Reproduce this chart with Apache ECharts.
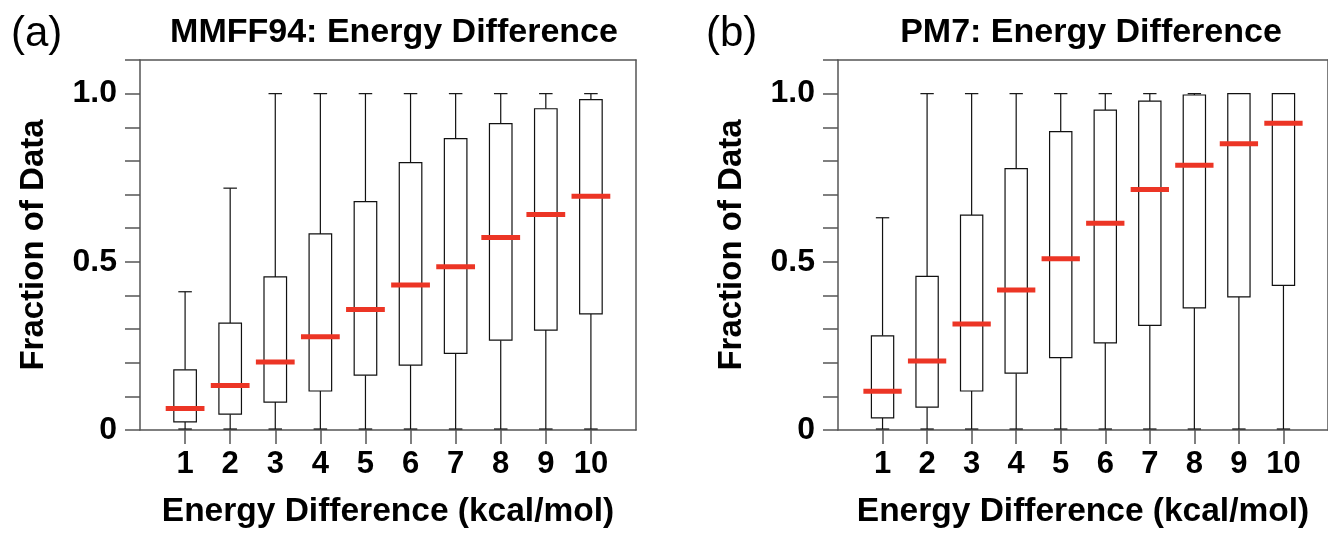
<!DOCTYPE html>
<html lang="en">
<head>
    <meta charset="utf-8"/>
    <title>Energy Difference box plots</title>
    <script src="https://cdn.jsdelivr.net/npm/echarts@6/dist/echarts.min.js"></script>
    <style>
        html, body { margin: 0; padding: 0; background: #fff; }
        #chart { width: 1328px; height: 534px; }
    </style>
</head>
<body>
<div id="chart"></div>
<script>
    // x positions (kcal/mol) and tick labels
    const energies = [1, 2, 3, 4, 5, 6, 7, 8, 9, 10];
    const yLabelTicks = [0, 0.5, 1.0];

    // (a) MMFF94
    const mmffMin = [0.003, 0.003, 0.003, 0.003, 0.003, 0.003, 0.003, 0.003, 0.003, 0.003];
    const mmffQ1 = [0.024, 0.047, 0.083, 0.116, 0.163, 0.193, 0.228, 0.267, 0.297, 0.345];
    const mmffMed = [0.064, 0.132, 0.202, 0.277, 0.358, 0.431, 0.485, 0.572, 0.641, 0.695];
    const mmffQ3 = [0.179, 0.318, 0.455, 0.583, 0.679, 0.795, 0.866, 0.911, 0.955, 0.982];
    const mmffMax = [0.411, 0.719, 1, 1, 1, 1, 1, 1, 1, 1];

    // (b) PM7
    const pm7Min = [0.003, 0.003, 0.003, 0.003, 0.003, 0.003, 0.003, 0.003, 0.003, 0.003];
    const pm7Q1 = [0.036, 0.068, 0.116, 0.169, 0.215, 0.259, 0.311, 0.363, 0.396, 0.430];
    const pm7Med = [0.115, 0.205, 0.315, 0.416, 0.509, 0.615, 0.715, 0.787, 0.851, 0.912];
    const pm7Q3 = [0.280, 0.457, 0.639, 0.777, 0.887, 0.951, 0.978, 0.996, 1.0, 1.0];
    const pm7Max = [0.631, 1, 1, 1, 1, 1, 1, 1, 1, 1];

    const font = 'Liberation Sans, Arial, Helvetica, sans-serif';
    const axisColor = '#555';
    const boxColor = '#111';
    const medianColor = '#ec3525';

    function rows(mn, q1, med, q3, mx) {
        return energies.map((x, i) => [x, mn[i], q1[i], med[i], q3[i], mx[i]]);
    }

    function renderBox(params, api) {
        const x = api.value(0);
        const pMin = api.coord([x, api.value(1)]);
        const pQ1 = api.coord([x, api.value(2)]);
        const pMed = api.coord([x, api.value(3)]);
        const pQ3 = api.coord([x, api.value(4)]);
        const pMax = api.coord([x, api.value(5)]);
        const unit = api.size([1, 0])[0];
        const boxW = unit * 0.5;
        const capW = unit * 0.3;
        const medW = unit * 0.86;
        const cx = pMin[0];
        const line = { stroke: boxColor, lineWidth: 1.2 };
        return {
            type: 'group',
            children: [
                { type: 'line', shape: { x1: cx, y1: pMin[1], x2: cx, y2: pQ1[1] }, style: line },
                { type: 'line', shape: { x1: cx, y1: pQ3[1], x2: cx, y2: pMax[1] }, style: line },
                { type: 'line', shape: { x1: cx - capW / 2, y1: pMin[1], x2: cx + capW / 2, y2: pMin[1] }, style: line },
                { type: 'line', shape: { x1: cx - capW / 2, y1: pMax[1], x2: cx + capW / 2, y2: pMax[1] }, style: line },
                { type: 'rect', shape: { x: cx - boxW / 2, y: pQ3[1], width: boxW, height: pQ1[1] - pQ3[1] },
                  style: { fill: '#fff', stroke: boxColor, lineWidth: 1.2 } },
                { type: 'rect', shape: { x: cx - medW / 2, y: pMed[1] - 2.5, width: medW, height: 5 },
                  style: { fill: medianColor } }
            ]
        };
    }

    function panelAxes(idx) {
        const xMain = {
            type: 'value', gridIndex: idx, min: 0, max: 11, interval: 1,
            name: 'Energy Difference (kcal/mol)', nameLocation: 'middle', nameGap: 65,
            nameTextStyle: { fontFamily: font, fontWeight: 'bold', fontSize: 33.5, color: '#000' },
            axisLine: { onZero: false, lineStyle: { color: axisColor, width: 1.5 } },
            axisTick: { customValues: energies, length: 14, lineStyle: { color: axisColor, width: 1.5 } },
            axisLabel: { customValues: energies, margin: 19, fontFamily: font, fontWeight: 'bold', fontSize: 31, color: '#000' },
            splitLine: { show: false }
        };
        const xTop = {
            type: 'value', gridIndex: idx, position: 'top', min: 0, max: 11,
            axisLine: { onZero: false, lineStyle: { color: axisColor, width: 1.5 } },
            axisTick: { show: false }, axisLabel: { show: false }, splitLine: { show: false }
        };
        const yMain = {
            type: 'value', gridIndex: idx, min: 0, max: 1.1, interval: 0.1,
            name: 'Fraction of Data', nameLocation: 'middle', nameGap: 90,
            nameTextStyle: { fontFamily: font, fontWeight: 'bold', fontSize: 33, color: '#000' },
            axisLine: { show: true, onZero: false, lineStyle: { color: axisColor, width: 1.5 } },
            axisTick: { show: true, length: 15, lineStyle: { color: axisColor, width: 1.5 } },
            axisLabel: {
                customValues: yLabelTicks, margin: 23,
                fontFamily: font, fontWeight: 'bold', fontSize: 32, color: '#000',
                formatter: v => (v === 0 ? '0' : v.toFixed(1))
            },
            splitLine: { show: false }
        };
        const yRight = {
            type: 'value', gridIndex: idx, position: 'right', min: 0, max: 1.1,
            axisLine: { show: true, onZero: false, lineStyle: { color: axisColor, width: 1.5 } },
            axisTick: { show: false }, axisLabel: { show: false }, splitLine: { show: false }
        };
        return { x: [xMain, xTop], y: [yMain, yRight] };
    }

    const chart = echarts.init(document.getElementById('chart'), null, { renderer: 'canvas' });
    const a = panelAxes(0);
    const b = panelAxes(1);

    const option = {
        animation: false,
        backgroundColor: '#fff',
        title: [
            { text: 'MMFF94: Energy Difference', left: 389, top: 11, textAlign: 'center',
              textStyle: { fontFamily: font, fontWeight: 'bold', fontSize: 34, color: '#000' } },
            { text: 'PM7: Energy Difference', left: 1086, top: 11, textAlign: 'center',
              textStyle: { fontFamily: font, fontWeight: 'bold', fontSize: 34, color: '#000' } }
        ],
        graphic: [
            { type: 'text', left: 11, top: 13, style: { text: '(a)', font: '42px ' + font, fill: '#000' } },
            { type: 'text', left: 706, top: 13, style: { text: '(b)', font: '42px ' + font, fill: '#000' } }
        ],
        grid: [
            { left: 140, top: 60, width: 496, height: 373 },
            { left: 838, top: 60, width: 496, height: 373 }
        ],
        xAxis: [a.x[0], a.x[1], b.x[0], b.x[1]],
        yAxis: [a.y[0], a.y[1], b.y[0], b.y[1]],
        series: [
            { type: 'custom', name: 'MMFF94', xAxisIndex: 0, yAxisIndex: 0,
              renderItem: renderBox, data: rows(mmffMin, mmffQ1, mmffMed, mmffQ3, mmffMax), clip: false },
            { type: 'custom', name: 'PM7', xAxisIndex: 2, yAxisIndex: 2,
              renderItem: renderBox, data: rows(pm7Min, pm7Q1, pm7Med, pm7Q3, pm7Max), clip: false }
        ]
    };
    chart.setOption(option);
</script>
</body>
</html>
